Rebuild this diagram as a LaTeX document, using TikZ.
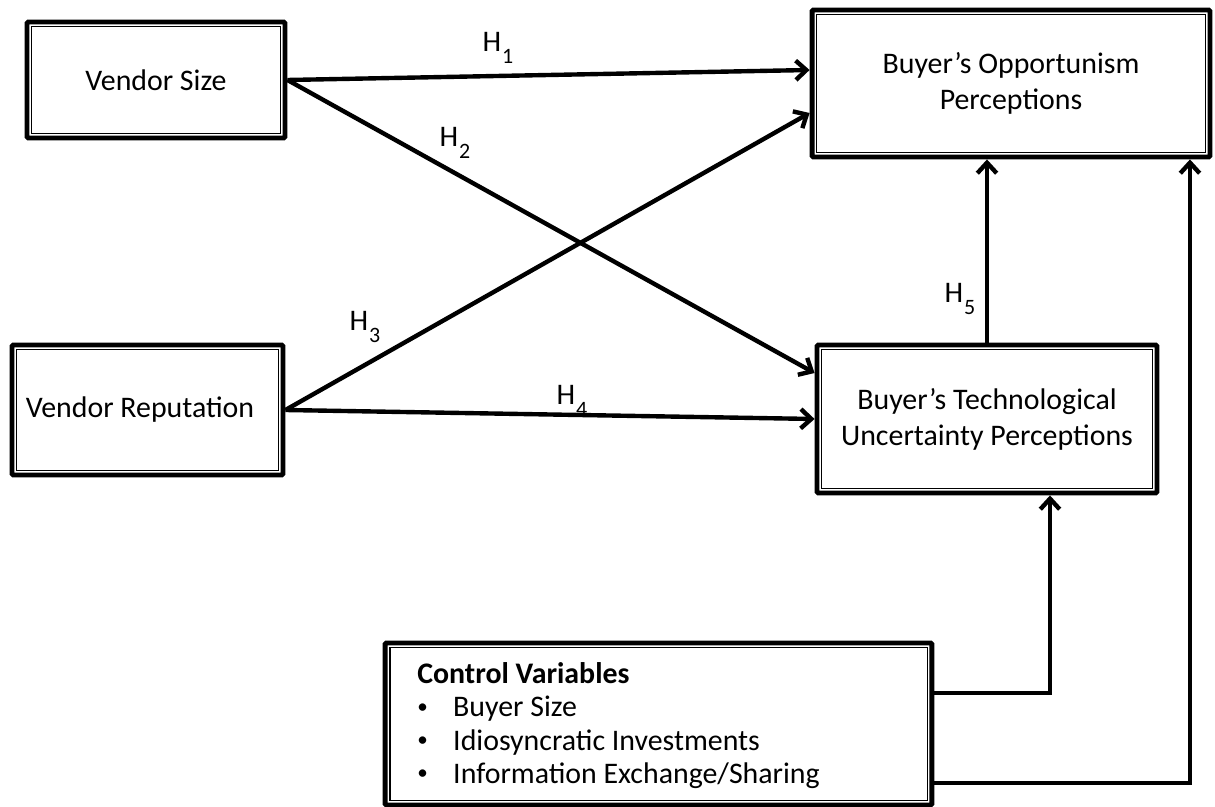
\documentclass[tikz,border=0pt]{standalone}
\usepackage{fontspec}
\setmainfont{Carlito}
\usetikzlibrary{positioning,arrows.meta}

\newcommand{\hsub}[1]{H\kern0.5pt\raisebox{-0.42em}{\fontsize{12.5}{12.5}\selectfont #1}}
\newcommand{\blt}{\raisebox{0.12em}{\fontsize{12}{12}\selectfont\textbullet}\hspace{0.85em}}

\tikzset{
  var/.style = {draw, line width=2.8pt, rounded corners=0.8pt, align=center,
    font=\fontsize{17}{20.5}\selectfont,
    path picture={\draw[line width=0.6pt, sharp corners]
      ([shift={(2.8pt,2.8pt)}]path picture bounding box.south west) rectangle
      ([shift={(-2.8pt,-2.8pt)}]path picture bounding box.north east);}},
  hyp/.style = {-{Straight Barb[length=6pt,width=11pt]}, line width=2.5pt},
  lbl/.style = {font=\fontsize{17}{20}\selectfont, inner sep=0pt},
}

\begin{document}
\begin{tikzpicture}[x=0.02cm, y=-0.02cm]
\useasboundingbox (0,0) rectangle (1215,807);

\node[var, minimum width=5.16cm, minimum height=2.32cm] (size) at (156,80) {Vendor Size};
\node[var, minimum width=5.42cm, minimum height=2.6cm] (rep) at (147.5,410) {Vendor Reputation\hspace{0.5em}};
\node[var, minimum width=7.96cm, minimum height=2.94cm] (opp) at (1011,83.5) {Buyer's Opportunism\\Perceptions};
\node[var, minimum width=6.8cm, minimum height=2.96cm] (tech) at (987,419) {Buyer's Technological\\Uncertainty Perceptions};
\node[var, minimum width=10.94cm, minimum height=3.24cm] (ctrl) at (658.5,724) {};
\node[anchor=north west, align=left, inner sep=0pt, font=\fontsize{17}{19}\selectfont] (ctrltxt) at (417,662)
  {\textbf{Control Variables}\\
   \blt Buyer Size\\
   \blt Idiosyncratic Investments\\
   \blt Information Exchange/Sharing};

% hypotheses
\node[lbl] (h1) at (498,48) {\hsub{1}};
\node[lbl] (h2) at (455,143) {\hsub{2}};
\node[lbl] (h3) at (365,327) {\hsub{3}};
\node[lbl] (h4) at (572,401) {\hsub{4}};
\node[lbl] (h5) at (960,299) {\hsub{5}};

\draw[hyp] (size.east) -- ([yshift=0.27cm]opp.west);
\draw[hyp] (size.east) -- ([yshift=0.92cm]tech.west);
\draw[hyp] (rep.east) -- ([yshift=-0.59cm]opp.west);
\draw[hyp] (rep.east) -- (tech.west);
\draw[hyp] (tech.north) -- (tech.north |- opp.south);

% controls
\draw[hyp] ([yshift=0.62cm]ctrl.east) -| ([xshift=1.26cm]tech.south);
\draw[hyp] ([yshift=-1.18cm]ctrl.east) -| ([xshift=3.58cm]opp.south);
\end{tikzpicture}
\end{document}
